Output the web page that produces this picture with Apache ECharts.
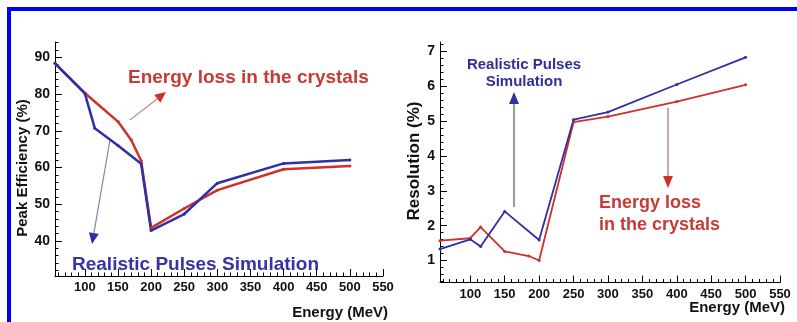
<!DOCTYPE html>
<html>
<head>
<meta charset="utf-8">
<script src="https://cdn.jsdelivr.net/npm/echarts@6/dist/echarts.min.js"></script>
<style>
html,body{margin:0;padding:0;background:#fff;}
#c{width:797px;height:322px;}
</style>
</head>
<body>
<div id="c"></div>
<script>
// ---- Data ----
const effXTicks = [100,150,200,250,300,350,400,450,500,550];
const effYTicks = [40,50,60,70,80,90];
const resXTicks = [100,150,200,250,300,350,400,450,500,550];
const resYTicks = [1,2,3,4,5,6,7];

// Peak efficiency (%) vs Energy (MeV)
const effLossE   = [55, 100, 150, 170, 185, 200, 250, 300, 400, 500];
const effLossV   = [88.4, 80.3, 72.5, 67.5, 61.8, 43.5, 48.8, 53.8, 59.5, 60.4];
const effPulseE  = [55, 100, 115, 150, 185, 200, 250, 300, 400, 500];
const effPulseV  = [88.4, 80.2, 70.7, 66.0, 61.0, 42.8, 47.3, 55.7, 61.1, 62.0];

// Resolution (%) vs Energy (MeV)
const resLossE   = [56, 100, 115, 150, 185, 200, 250, 300, 400, 500];
const resLossV   = [1.57, 1.64, 1.96, 1.26, 1.13, 1.00, 4.97, 5.13, 5.56, 6.04];
const resPulseE  = [56, 100, 115, 150, 200, 250, 300, 400, 500];
const resPulseV  = [1.33, 1.61, 1.40, 2.41, 1.59, 5.04, 5.26, 6.05, 6.83];

const zip = (a,b) => a.map((x,i)=>[x,b[i]]);
function range(a,b,s){const r=[];for(let v=a;v<=b+1e-9;v+=s)r.push(Math.round(v*1000)/1000);return r;}

const RED = '#d0302a', BLUE = '#2f2fa6';
const FONT = '"Liberation Sans", Arial, sans-serif';

const chart = echarts.init(document.getElementById('c'), null, {renderer:'canvas'});

function mainX(grid, min, max, ticks){
  return {type:'value', gridIndex:grid, position:'bottom', min, max,
    axisLine:{show:true, onZero:false, lineStyle:{color:'#000', width:1}},
    axisTick:{show:true, inside:true, length:7, customValues:ticks, lineStyle:{color:'#000'}},
    axisLabel:{show:true, margin:5, customValues:ticks, color:'#111', fontFamily:FONT, fontWeight:'bold', fontSize:13},
    splitLine:{show:false}};
}
function minorX(grid, min, max, ticks){
  return {type:'value', gridIndex:grid, position:'bottom', min, max,
    axisLine:{show:false},
    axisTick:{show:true, inside:true, length:3.5, customValues:ticks, lineStyle:{color:'#000'}},
    axisLabel:{show:false, customValues:ticks}, splitLine:{show:false}};
}
function mainY(grid, min, max, ticks){
  return {type:'value', gridIndex:grid, position:'left', min, max,
    axisLine:{show:true, onZero:false, lineStyle:{color:'#000', width:1}},
    axisTick:{show:true, inside:true, length:7, customValues:ticks, lineStyle:{color:'#000'}},
    axisLabel:{show:true, margin:5, customValues:ticks, color:'#111', fontFamily:FONT, fontWeight:'bold', fontSize:14},
    splitLine:{show:false}};
}
function minorY(grid, min, max, ticks){
  return {type:'value', gridIndex:grid, position:'left', min, max,
    axisLine:{show:false},
    axisTick:{show:true, inside:true, length:3.5, customValues:ticks, lineStyle:{color:'#000'}},
    axisLabel:{show:false, customValues:ticks}, splitLine:{show:false}};
}

function arrow(x1,y1,x2,y2,shaft,head,hl,hw,lw){
  const ang = Math.atan2(y2-y1, x2-x1);
  const bx = x2 - hl*Math.cos(ang), by = y2 - hl*Math.sin(ang);
  const px = -Math.sin(ang)*hw/2, py = Math.cos(ang)*hw/2;
  return [
    {type:'line', shape:{x1,y1,x2:bx,y2:by}, style:{stroke:shaft, lineWidth:lw}, silent:true},
    {type:'polygon', shape:{points:[[x2,y2],[bx+px,by+py],[bx-px,by-py]]}, style:{fill:head}, silent:true}
  ];
}
function txt(x,y,text,opt){
  return Object.assign({type:'text', x, y, silent:true,
    style:Object.assign({text, fontFamily:FONT, fontWeight:'bold', fill:'#111', align:'left', verticalAlign:'middle'}, opt.style||{})},
    opt.rotation!==undefined?{rotation:opt.rotation}:{});
}

const lineSeries = (name, data, color, xi, yi, w) => ({
  type:'line', name, data, xAxisIndex:xi, yAxisIndex:yi,
  symbol:'circle', symbolSize:3, showSymbol:true,
  lineStyle:{color, width:w}, itemStyle:{color}, z:3, silent:true
});

const option = {
  animation:false,
  backgroundColor:'#fff',
  grid:[
    {left:55, top:42, width:328, height:234},
    {left:440, top:42, width:340, height:240.5}
  ],
  xAxis:[
    mainX(0, 55, 550, effXTicks),
    minorX(0, 55, 550, range(60,550,10)),
    mainX(1, 56, 550, resXTicks),
    minorX(1, 56, 550, range(60,550,10))
  ],
  yAxis:[
    mainY(0, 30.4, 94.2, effYTicks),
    minorY(0, 30.4, 94.2, range(32,94,2)),
    mainY(1, 0.37, 7.27, resYTicks),
    minorY(1, 0.37, 7.27, range(0.4,7.2,0.2))
  ],
  series:[
    lineSeries('Energy loss in the crystals', zip(effLossE, effLossV), RED, 0, 0, 2.5),
    lineSeries('Realistic Pulses Simulation', zip(effPulseE, effPulseV), BLUE, 0, 0, 2.5),
    lineSeries('Energy loss in the crystals', zip(resLossE, resLossV), RED, 2, 2, 1.8),
    lineSeries('Realistic Pulses Simulation', zip(resPulseE, resPulseV), BLUE, 2, 2, 1.8)
  ],
  graphic:[].concat(
    [
      {type:'rect', shape:{x:7, y:7, width:790, height:4}, style:{fill:'#0000ff'}, silent:true},
      {type:'rect', shape:{x:7, y:7, width:4, height:315}, style:{fill:'#0000ff'}, silent:true}
    ],
    arrow(130,120,166,92,'#c08a8a',RED,11,10,1.2),
    arrow(110,140,92,244,'#7f86a8',BLUE,11,10,1.2),
    arrow(514,207,514,92,'#9a9a9a',BLUE,12,10,2),
    arrow(668,108,668,188,'#a07070',RED,12,10,1.2),
    [
      txt(128,78,'Energy loss in the crystals',{style:{fill:'#c83a36', fontSize:19}}),
      txt(72,265,'Realistic Pulses Simulation',{style:{fill:'#3434a4', fontSize:19}}),
      txt(524,65,'Realistic Pulses',{style:{fill:'#2f2f9a', fontSize:15, align:'center'}}),
      txt(524,82,'Simulation',{style:{fill:'#2f2f9a', fontSize:15, align:'center'}}),
      txt(599,203,'Energy loss',{style:{fill:'#c83a36', fontSize:18}}),
      txt(599,225,'in the crystals',{style:{fill:'#c83a36', fontSize:18}}),
      txt(23,168,'Peak Efficiency (%)',{rotation:Math.PI/2, style:{fontSize:15, align:'center'}}),
      txt(414,161,'Resolution (%)',{rotation:Math.PI/2, style:{fontSize:17, align:'center'}}),
      txt(388,313,'Energy (MeV)',{style:{fontSize:15, align:'right'}}),
      txt(785,308,'Energy (MeV)',{style:{fontSize:15, align:'right'}})
    ]
  )
};
chart.setOption(option);
</script>
</body>
</html>
